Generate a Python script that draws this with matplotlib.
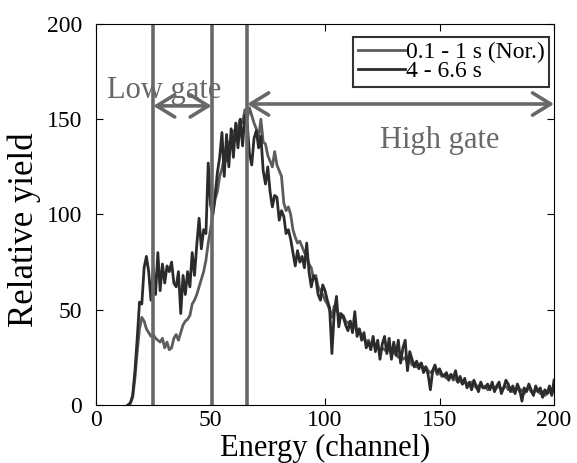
import matplotlib
matplotlib.use("Agg")
import matplotlib.pyplot as plt
import numpy as np

GREY_LINE, DARK_LINE, GATE = "#5c5c5c", "#2b2b2b", "#686868"
plt.rcParams.update({"font.family": ["Liberation Serif", "DejaVu Serif"],
                     "mathtext.fontset": "stix"})

channel = np.arange(14, 201)

early = [0, 1, 4, 14, 28, 40, 46, 44, 40, 38, 36, 37, 35, 34, 33, 35, 30, 33, 29, 30,
         35, 37, 34, 38, 42, 44, 45, 47, 53, 55, 58, 62, 66, 70, 76, 85, 92, 100, 108, 112,
         120, 124, 130, 128, 138, 136, 144, 140, 146, 150, 148, 155, 150, 156, 152, 148, 145, 140, 150, 138,
         137, 131, 128, 125, 133, 126, 123, 120, 106, 102, 104, 100, 92, 88, 85, 86, 83, 80, 78, 74,
         72, 66, 68, 62, 60, 58, 55, 53, 50, 46, 52, 50, 48, 46, 47, 44, 43, 44, 40, 42,
         38, 39, 36, 35, 33, 34, 31, 33, 30, 31, 28, 30, 29, 28, 30, 26, 28, 27, 25, 26,
         24, 25, 22, 24, 21, 22, 20, 21, 22, 19, 20, 18, 17, 18, 19, 16, 17, 15, 16, 14,
         15, 16, 13, 14, 12, 13, 11, 12, 11, 10, 12, 11, 9, 10, 11, 9, 10, 8, 9, 11,
         8, 9, 10, 8, 9, 10, 8, 9, 7, 8, 9, 7, 8, 6, 8, 9, 7, 6, 8, 7,
         6, 7, 5, 6, 7, 6, 8]

late = [0, 1, 5, 18, 35, 54, 53, 72, 78, 70, 55, 72, 58, 80, 60, 74, 64, 73, 70, 75,
        64, 62, 70, 48, 68, 58, 70, 62, 80, 68, 84, 98, 82, 92, 90, 127, 105, 100, 110, 122,
        130, 143, 120, 142, 125, 145, 130, 148, 135, 150, 136, 152, 148, 132, 126, 140, 144, 135, 141, 123,
        116, 125, 112, 104, 110, 109, 97, 102, 99, 90, 92, 87, 80, 73, 81, 75, 78, 72, 85, 70,
        62, 68, 66, 58, 55, 63, 60, 55, 51, 27, 48, 57, 41, 48, 46, 42, 39, 44, 38, 49,
        36, 40, 34, 38, 30, 33, 29, 36, 28, 34, 24, 32, 36, 27, 35, 24, 33, 26, 34, 22,
        30, 34, 18, 28, 24, 20, 23, 19, 22, 17, 20, 16, 8, 18, 21, 17, 19, 16, 15, 17,
        13, 16, 14, 18, 12, 15, 11, 14, 9, 12, 8, 13, 10, 7, 12, 9, 9, 11, 8, 12,
        7, 10, 12, 6, 9, 13, 11, 7, 10, 6, 11, 8, 2, 9, 7, 11, 8, 5, 10, 7,
        9, 4, 8, 6, 10, 5, 13]

gate_edges = [25, 50.5, 66]
low_gate = (25, 50.5)
high_gate = (66, 200)
gate_y = 157

fig = plt.figure(figsize=(5.77, 4.63), dpi=100)
ax = fig.add_axes([0.1664, 0.1253, 0.7938, 0.8229])

ax.plot(channel, early, color=GREY_LINE, lw=2.0, label="0.1 - 1 s (Nor.)")
ax.plot(channel, late, color=DARK_LINE, lw=2.0, label="4 - 6.6 s")

for xe in gate_edges:
    ax.axvline(xe, color=GATE, lw=2.6)
arr = dict(arrowstyle="<->,head_length=1.3,head_width=0.8", color=GATE, lw=2.6,
           shrinkA=0, shrinkB=0)
ax.annotate("", xy=(low_gate[1], gate_y), xytext=(low_gate[0], gate_y), arrowprops=arr)
ax.annotate("", xy=(high_gate[1], gate_y + 1), xytext=(high_gate[0], gate_y + 1),
            arrowprops=arr)
ax.text(5, 165, "Low gate", fontsize=22, color=GATE, va="center", ha="left")
ax.text(124, 139, "High gate", fontsize=22, color=GATE, va="center", ha="left")

ax.set_xlim(0, 200)
ax.set_ylim(0, 200)
ax.set_xticks([0, 50, 100, 150, 200])
ax.set_yticks([0, 50, 100, 150, 200])
ax.tick_params(direction="in", top=True, right=True, labelsize=17, length=5)
ax.tick_params(axis="y", pad=10)
ax.set_xlabel("Energy (channel)", fontsize=22, labelpad=2)
ax.set_ylabel("Relative yield", fontsize=25)
ax.yaxis.set_label_coords(-0.12, 0.459)

leg = ax.legend(loc="upper right", bbox_to_anchor=(0.99, 0.966), fontsize=17,
                handlelength=2.0, handletextpad=0.05, labelspacing=-0.1,
                borderpad=0.2, borderaxespad=0, frameon=True, fancybox=False)
leg.get_frame().set_edgecolor("black")
leg.get_frame().set_linewidth(1.5)

fig.savefig("out.png", dpi=100)
